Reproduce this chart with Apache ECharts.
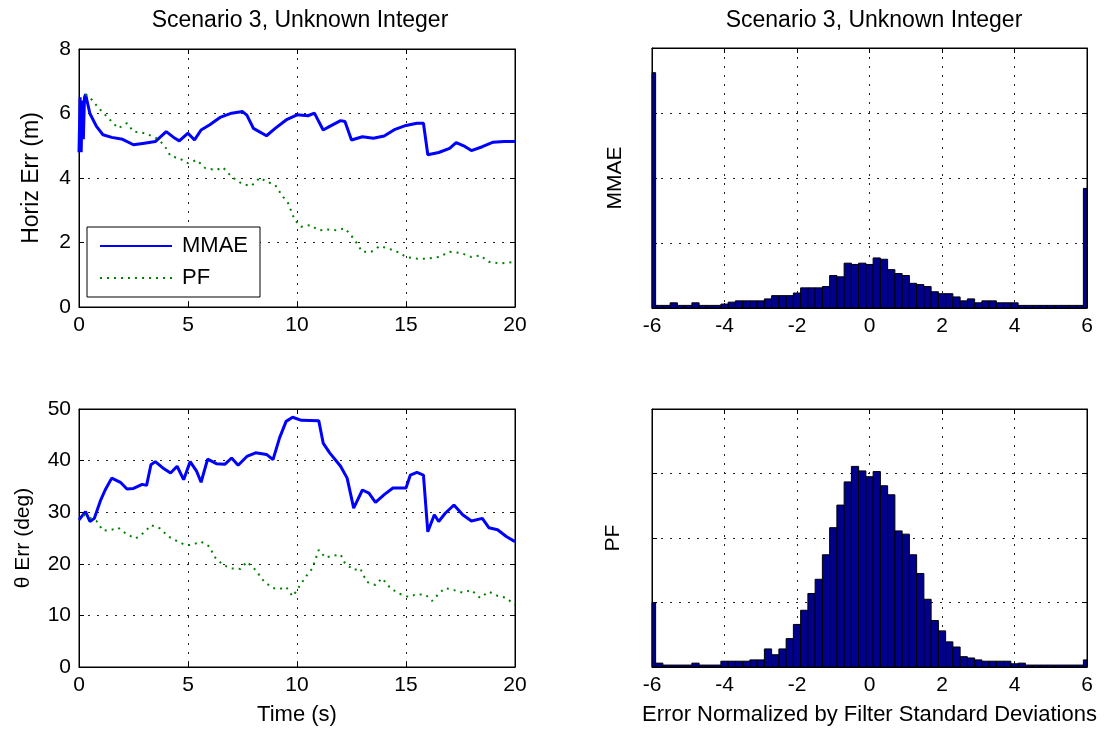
<!DOCTYPE html>
<html>
<head>
<meta charset="utf-8">
<script src="https://cdn.jsdelivr.net/npm/echarts@6/dist/echarts.min.js"></script>
<style>
  html, body { margin: 0; padding: 0; background: #fff; }
  #chart { width: 1107px; height: 729px; }
</style>
</head>
<body>
<div id="chart"></div>
<script>
// ---- data ----
const titleText = 'Scenario 3, Unknown Integer';
const seriesNames = ['MMAE', 'PF'];

// horizontal position error (m) vs time (s)
const horizMmae = [[0,4.8],[0.05,6.5],[0.1,4.8],[0.15,6.4],[0.2,5.2],[0.25,6.5],[0.3,6.6],[0.4,6.3],[0.5,6.0],[0.8,5.6],
  [1.1,5.34],[1.5,5.26],[2.0,5.2],[2.5,5.03],[3.0,5.08],[3.5,5.13],[4.0,5.44],[4.4,5.23],[4.6,5.15],[5.0,5.39],
  [5.3,5.18],[5.6,5.49],[6.0,5.65],[6.5,5.89],[7.0,6.01],[7.5,6.06],[7.7,5.95],[8.0,5.54],[8.6,5.31],[9.0,5.54],
  [9.5,5.80],[10.0,5.96],[10.5,5.93],[10.8,6.01],[11.2,5.49],[11.5,5.6],[12.0,5.78],[12.2,5.75],[12.5,5.18],[13.0,5.28],
  [13.5,5.23],[14.0,5.30],[14.5,5.51],[15.0,5.63],[15.5,5.70],[15.8,5.70],[16.0,4.72],[16.5,4.79],[17.0,4.92],[17.3,5.10],
  [17.7,4.98],[18.0,4.85],[18.5,4.97],[19.0,5.11],[19.5,5.13],[20.0,5.13]];
const horizPf = [[0.3,6.6],[0.6,6.42],[0.9,6.17],[1.3,5.89],[1.8,5.54],[2.2,5.7],[2.5,5.44],[3.0,5.39],[3.5,5.26],[3.9,5.03],
  [4.2,4.68],[4.6,4.61],[5.0,4.46],[5.4,4.56],[5.8,4.3],[6.3,4.25],[6.6,4.33],[7.0,4.04],[7.5,3.81],[7.9,3.75],
  [8.3,4.01],[8.6,3.89],[9.0,3.78],[9.3,3.47],[9.6,3.21],[9.9,2.69],[10.2,2.49],[10.6,2.54],[11.0,2.38],[11.4,2.4],
  [11.8,2.38],[12.2,2.44],[12.6,2.12],[13.0,1.71],[13.4,1.71],[13.8,1.89],[14.2,1.81],[14.6,1.71],[15.0,1.55],[15.5,1.5],
  [16.0,1.5],[16.5,1.55],[17.0,1.71],[17.5,1.68],[18.0,1.55],[18.4,1.6],[18.8,1.4],[19.3,1.35],[20.0,1.4]];

// heading error (deg) vs time (s)
const thetaMmae = [[0,28.5],[0.3,30.1],[0.5,28.2],[0.7,28.8],[1.0,32.4],[1.2,34.3],[1.5,36.6],[1.9,35.8],[2.2,34.5],[2.5,34.6],
  [2.9,35.4],[3.1,35.2],[3.3,39.2],[3.5,39.8],[3.9,38.4],[4.2,37.6],[4.5,38.9],[4.8,36.3],[5.1,39.8],[5.4,37.9],
  [5.6,35.8],[5.9,40.3],[6.3,39.4],[6.7,39.3],[7.0,40.5],[7.3,39.1],[7.7,40.8],[8.1,41.5],[8.6,41.2],[8.9,40.2],
  [9.2,44.4],[9.5,47.6],[9.8,48.4],[10.2,47.8],[11.0,47.7],[11.2,43.4],[11.5,41.5],[12.0,38.9],[12.3,36.6],[12.6,30.8],
  [13.0,34.3],[13.3,33.7],[13.6,31.9],[14.0,33.4],[14.4,34.7],[15.0,34.7],[15.2,37.2],[15.5,37.7],[15.8,37.2],[16.0,26.2],
  [16.3,29.5],[16.5,28.2],[16.8,29.8],[17.2,31.4],[17.6,29.5],[18.0,28.3],[18.5,28.8],[18.8,27.0],[19.2,26.6],[19.6,25.3],
  [20.0,24.3]];
const thetaPf = [[0.2,29.5],[0.8,28.3],[1.1,26.4],[1.5,26.6],[1.8,27.0],[2.2,25.7],[2.6,24.9],[3.0,26.1],[3.3,27.5],[3.7,26.9],
  [4.1,25.3],[4.5,24.4],[4.9,23.6],[5.2,23.7],[5.6,24.3],[6.0,23.3],[6.2,21.4],[6.6,19.8],[7.0,19.1],[7.4,19.0],
  [7.7,20.4],[8.1,18.8],[8.5,16.5],[8.9,15.3],[9.2,15.1],[9.5,15.5],[9.8,13.7],[10.0,14.9],[10.4,17.5],[10.7,19.1],
  [11.0,22.7],[11.3,21.2],[11.7,21.6],[12.0,21.8],[12.2,20.1],[12.6,18.8],[12.9,19.1],[13.2,16.5],[13.6,15.9],[13.9,17.2],
  [14.3,15.2],[14.7,14.2],[15.1,13.6],[15.5,14.1],[15.9,14.0],[16.2,12.8],[16.5,14.2],[16.8,15.3],[17.2,14.9],[17.6,14.4],
  [18.0,14.9],[18.4,13.4],[18.8,14.6],[19.2,13.8],[19.6,13.4],[20.0,12.0]];

// histogram of normalized errors: bin centres -6 .. 6, step 0.2
const binWidth = 0.2;
const binCenters = Array.from({length: 61}, (_, i) => Math.round((-6 + i * binWidth) * 10) / 10);
const mmaeCounts = [3.62,
  0.04,0.04,0.08,0.04,0.04,0.08,0.04,0.04,0.04,0.06,
  0.09,0.11,0.11,0.11,0.11,0.14,0.19,0.19,0.19,0.23,
  0.31,0.31,0.31,0.33,0.50,0.48,0.69,0.67,0.69,0.67,
  0.77,0.75,0.59,0.53,0.50,0.38,0.36,0.33,0.25,0.22,
  0.22,0.17,0.11,0.14,0.08,0.11,0.11,0.08,0.08,0.08,
  0.04,0.04,0.04,0.04,0.04,0.04,0.04,0.04,0.04,1.84];
const pfCounts = [1.0,
  0.06,0.03,0.03,0.03,0.03,0.06,0.03,0.03,0.03,0.09,
  0.09,0.09,0.09,0.11,0.11,0.28,0.19,0.28,0.44,0.66,
  0.88,1.14,1.36,1.74,2.16,2.51,2.87,3.11,3.04,2.95,
  3.03,2.81,2.67,2.11,2.06,1.74,1.45,1.05,0.72,0.56,
  0.39,0.31,0.16,0.14,0.11,0.09,0.09,0.09,0.09,0.05,
  0.06,0.03,0.03,0.03,0.03,0.03,0.03,0.03,0.03,0.11];

const timeTicks = {min: 0, max: 20, interval: 5};
const horizTicks = {min: 0, max: 8, interval: 2};
const thetaTicks = {min: 0, max: 50, interval: 10};
const normTicks = {min: -6, max: 6, interval: 2};
const countTicks = {min: 0, max: 4, interval: 1};

// ---- styling ----
const FONT = 'Liberation Sans, Arial, sans-serif';
const dottedGrid = {show: true, lineStyle: {color: '#222', type: [2, 7], width: 1}};

const grids = [
  {left: 79, top: 49, width: 436, height: 258},
  {left: 79, top: 409, width: 436, height: 258},
  {left: 652, top: 48, width: 435, height: 260},
  {left: 652, top: 409, width: 435, height: 258}
].map(g => Object.assign({show: true, borderColor: '#000', borderWidth: 1, backgroundColor: '#fff'}, g));

function xAxisFor(gi, ticks, name) {
  return [
    Object.assign({
      type: 'value', gridIndex: gi, position: 'bottom',
      name: name || '', nameLocation: 'middle', nameGap: 37,
      nameTextStyle: {color: '#000', fontSize: 22, fontFamily: FONT},
      axisLine: {show: true, onZero: false, lineStyle: {color: '#000'}},
      axisTick: {show: true, inside: true, length: 5, lineStyle: {color: '#000'}},
      axisLabel: {show: true, color: '#000', fontSize: 21, fontFamily: FONT, margin: 8},
      splitLine: dottedGrid
    }, ticks),
    Object.assign({
      type: 'value', gridIndex: gi, position: 'top',
      axisLine: {show: true, onZero: false, lineStyle: {color: '#000'}},
      axisTick: {show: true, inside: true, length: 5, lineStyle: {color: '#000'}},
      axisLabel: {show: false}, splitLine: {show: false}
    }, ticks)
  ];
}

function yAxisFor(gi, ticks, name, showLabels, nameGap, nameSize) {
  return [
    Object.assign({
      type: 'value', gridIndex: gi, position: 'left',
      name: name, nameLocation: 'middle', nameGap: nameGap,
      nameTextStyle: {color: '#000', fontSize: nameSize, fontFamily: FONT},
      axisLine: {show: true, onZero: false, lineStyle: {color: '#000'}},
      axisTick: {show: true, inside: true, length: 5, lineStyle: {color: '#000'}},
      axisLabel: {show: showLabels, color: '#000', fontSize: 21, fontFamily: FONT, margin: 8},
      splitLine: dottedGrid
    }, ticks),
    Object.assign({
      type: 'value', gridIndex: gi, position: 'right',
      axisLine: {show: true, onZero: false, lineStyle: {color: '#000'}},
      axisTick: {show: true, inside: true, length: 5, lineStyle: {color: '#000'}},
      axisLabel: {show: false}, splitLine: {show: false}
    }, ticks)
  ];
}

const xAxes = [].concat(
  xAxisFor(0, timeTicks, ''),
  xAxisFor(1, timeTicks, 'Time (s)'),
  xAxisFor(2, normTicks, ''),
  xAxisFor(3, normTicks, 'Error Normalized by Filter Standard Deviations')
);
const yAxes = [].concat(
  yAxisFor(0, horizTicks, 'Horiz Err (m)', true, 36, 23),
  yAxisFor(1, thetaTicks, '\u03b8 Err (deg)', true, 45, 21),
  yAxisFor(2, countTicks, 'MMAE', false, 26, 21),
  yAxisFor(3, countTicks, 'PF', false, 28, 21)
);

const mmaeLine = {color: '#0000ff', width: 3};
const pfLine = {color: '#008000', width: 2, type: [2, 5]};

function lineSeries(name, data, axisIdx, style) {
  return {
    type: 'line', name: name, data: data,
    xAxisIndex: axisIdx * 2, yAxisIndex: axisIdx * 2,
    showSymbol: false, symbol: 'none', animation: false,
    lineStyle: style, itemStyle: {color: style.color}
  };
}

function histSeries(counts, axisIdx) {
  return {
    type: 'custom', xAxisIndex: axisIdx * 2, yAxisIndex: axisIdx * 2,
    data: binCenters.map((c, i) => [c, counts[i]]),
    animation: false, silent: true,
    renderItem: function (params, api) {
      const c = api.value(0), h = api.value(1);
      const p0 = api.coord([c - binWidth / 2, 0]);
      const p1 = api.coord([c + binWidth / 2, h]);
      const cs = params.coordSys;
      const shape = echarts.graphic.clipRectByRect(
        {x: p0[0], y: p1[1], width: p1[0] - p0[0], height: p0[1] - p1[1]},
        {x: cs.x, y: cs.y, width: cs.width, height: cs.height});
      return shape && {
        type: 'rect', shape: shape,
        style: {fill: '#00008c', stroke: '#000', lineWidth: 1}
      };
    }
  };
}

const option = {
  backgroundColor: '#fff',
  animation: false,
  textStyle: {fontFamily: FONT},
  title: [
    {text: titleText, left: 295, top: 4, textAlign: 'center',
     textStyle: {color: '#000', fontSize: 23, fontWeight: 'normal', fontFamily: FONT}},
    {text: titleText, left: 869, top: 4, textAlign: 'center',
     textStyle: {color: '#000', fontSize: 23, fontWeight: 'normal', fontFamily: FONT}}
  ],
  legend: {
    data: seriesNames,
    orient: 'vertical', left: 87, top: 227,
    backgroundColor: '#fff', borderColor: '#000', borderWidth: 1,
    padding: [8, 12, 8, 12], itemGap: 10, itemWidth: 72, itemHeight: 24,
    itemStyle: {opacity: 0},
    textStyle: {color: '#000', fontSize: 22, fontFamily: FONT, padding: [0, 0, 0, 5]},
    selectedMode: false
  },
  grid: grids,
  xAxis: xAxes,
  yAxis: yAxes,
  series: [
    lineSeries('MMAE', horizMmae, 0, mmaeLine),
    lineSeries('PF', horizPf, 0, pfLine),
    lineSeries('MMAE', thetaMmae, 1, mmaeLine),
    lineSeries('PF', thetaPf, 1, pfLine),
    histSeries(mmaeCounts, 2),
    histSeries(pfCounts, 3)
  ]
};

const chart = echarts.init(document.getElementById('chart'), null, {renderer: 'canvas'});
chart.setOption(option);
</script>
</body>
</html>
